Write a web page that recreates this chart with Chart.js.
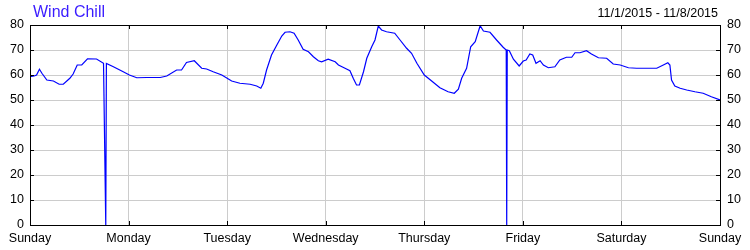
<!DOCTYPE html>
<html>
<head>
<meta charset="utf-8">
<script src="https://cdn.jsdelivr.net/npm/chart.js@4"></script>
<style>
  body { margin: 0; background: #fff; }
</style>
</head>
<body>
<canvas id="windChill" width="750" height="250"></canvas>
<script>
  // Data ---------------------------------------------------------------
  const chartTitle = "Wind Chill";
  const dateRange = "11/1/2015 - 11/8/2015";
  const dayLabels = ["Sunday", "Monday", "Tuesday", "Wednesday", "Thursday", "Friday", "Saturday", "Sunday"];

  // hours since Sunday 00:00
  const hours = [
    0, 1, 1.6, 2.3, 2.9, 4.1, 5.7, 7.1, 8.1, 9.7, 10.5, 11.5, 12.6, 14, 16.2, 17.9, 18.45, 18.6,
    20.3, 22.7, 24.2, 26, 28.4, 31.7, 33.3, 35.7, 36.9, 38.1, 40, 41.8, 43, 44.6, 46.7, 49.1,
    51.1, 53.6, 55.2, 56.2, 56.8, 57.6, 58.8, 60.1, 61.3, 62.1, 63.3, 64.3, 65.3, 66.5, 67.8,
    69, 70.2, 71, 72.6, 74.3, 75.1, 76.7, 77.9, 78.7, 79.5, 80.2, 81.2, 82, 83.2, 84, 84.8,
    85.6, 86.8, 88.8, 90.1, 91.7, 92.9, 94.2, 96, 97.8, 99.8, 101.8, 103.3, 104.3, 105.1,
    106.3, 107.3, 108.4, 109.6, 110.4, 112, 113.6, 115.2, 115.95, 116.07, 116.2, 116.7, 117.7,
    119.1, 120.1, 120.8, 121.7, 122.4, 123.2, 124.2, 125, 126.2, 127.8, 129, 130.6, 131.9,
    132.7, 133.9, 135.5, 136.7, 138.4, 140.4, 142, 143.7, 145.7, 147.7, 152.6, 154.2, 155.3,
    155.8, 156.2, 157, 158.3, 159.9, 161.9, 163.9, 165.9, 168
  ];
  const windChill = [
    59.3, 59.6, 60, 62.3, 60.7, 58, 57.6, 56.3, 56.3, 58.7, 60.4, 64, 64, 66.5, 66.4, 64.7, 0, 64.6,
    63.3, 61.3, 60, 58.9, 59, 59, 59.6, 62, 62, 65, 65.7, 62.7, 62.4, 61.3, 60, 57.6,
    56.7, 56.3, 55.6, 54.7, 56.7, 62, 68, 72, 75.6, 77.1, 77.3, 76.7, 74, 70.3, 69.3,
    67.3, 65.7, 65.3, 66.3, 65.3, 64, 62.7, 61.7, 58.7, 56, 56, 61.3, 66.7, 71.3, 74, 79.6,
    78, 77.3, 76.7, 74, 70.7, 68.7, 64.7, 60, 57.6, 54.9, 53.3, 52.7, 54.3, 58.7,
    62.7, 71.3, 73.3, 79.7, 77.6, 77.1, 74, 71.1, 70, 0, 70, 69.7, 66.3,
    63.6, 65.6, 66, 68.4, 68, 64.7, 65.7, 64, 62.9, 63.3, 66, 67.1, 67.1,
    68.9, 68.9, 69.7, 68.4, 66.9, 66.7, 64.4, 64, 62.9, 62.7, 62.7, 64, 64.9,
    64, 58, 55.6, 54.7, 54, 53.3, 52.7, 51.3, 50
  ];

  const yMin = 0;
  const yMax = 80;
  const yStep = 10;

  // Ve khung, vach chia ben trong va tieu de
  const framePlugin = {
    id: "frame",
    afterDraw(chart) {
      const ctx = chart.ctx;
      const a = chart.chartArea;
      const xs = chart.scales.x;
      const ys = chart.scales.y;
      ctx.save();
      ctx.strokeStyle = "#000";
      ctx.lineWidth = 1;
      ctx.beginPath();
      for (let h = 24; h < 168; h += 24) {
        const px = Math.round(xs.getPixelForValue(h)) + 0.5;
        ctx.moveTo(px, a.top);
        ctx.lineTo(px, a.top + 4);
        ctx.moveTo(px, a.bottom);
        ctx.lineTo(px, a.bottom - 4);
      }
      for (let v = yMin + yStep; v < yMax; v += yStep) {
        const py = Math.round(ys.getPixelForValue(v)) + 0.5;
        ctx.moveTo(a.left, py);
        ctx.lineTo(a.left + 4, py);
        ctx.moveTo(a.right, py);
        ctx.lineTo(a.right - 4, py);
      }
      ctx.stroke();
      ctx.strokeRect(Math.round(a.left) + 0.5, Math.round(a.top) + 0.5,
        Math.round(a.right - a.left), Math.round(a.bottom - a.top));

      ctx.textBaseline = "alphabetic";
      ctx.fillStyle = "#3a1cff";
      ctx.font = "16px 'Liberation Sans', Arial, sans-serif";
      ctx.textAlign = "left";
      ctx.fillText(chartTitle, 33, 17);
      ctx.fillStyle = "#000";
      ctx.font = "12.5px 'Liberation Sans', Arial, sans-serif";
      ctx.textAlign = "right";
      ctx.fillText(dateRange, 718, 17);
      ctx.restore();
    }
  };

  const tickFont = { family: "'Liberation Sans', Arial, sans-serif", size: 12.5 };

  new Chart(document.getElementById("windChill"), {
    type: "line",
    data: {
      datasets: [{
        label: chartTitle,
        data: hours.map((h, i) => ({ x: h, y: windChill[i] })),
        borderColor: "#0000ff",
        borderWidth: 1.2,
        pointRadius: 0,
        tension: 0,
        fill: false
      }]
    },
    options: {
      responsive: false,
      animation: false,
      layout: { padding: { top: 25 } },
      plugins: {
        legend: { display: false },
        tooltip: { enabled: false }
      },
      scales: {
        x: {
          type: "linear",
          min: 0,
          max: 168,
          afterFit(scale) { scale.height = 25; },
          ticks: {
            stepSize: 24,
            autoSkip: false,
            maxRotation: 0,
            padding: 6,
            color: "#000",
            font: tickFont,
            callback: (v) => dayLabels[v / 24]
          },
          grid: { color: "#cccccc", drawTicks: false },
          border: { display: false }
        },
        y: {
          min: yMin,
          max: yMax,
          afterFit(scale) { scale.width = 30; },
          ticks: { stepSize: yStep, padding: 6, color: "#000", font: tickFont },
          grid: { color: "#cccccc", drawTicks: false },
          border: { display: false }
        },
        y2: {
          position: "right",
          min: yMin,
          max: yMax,
          afterFit(scale) { scale.width = 30; },
          ticks: { stepSize: yStep, padding: 7, color: "#000", font: tickFont },
          grid: { drawOnChartArea: false, drawTicks: false },
          border: { display: false }
        }
      }
    },
    plugins: [framePlugin]
  });
</script>
</body>
</html>
